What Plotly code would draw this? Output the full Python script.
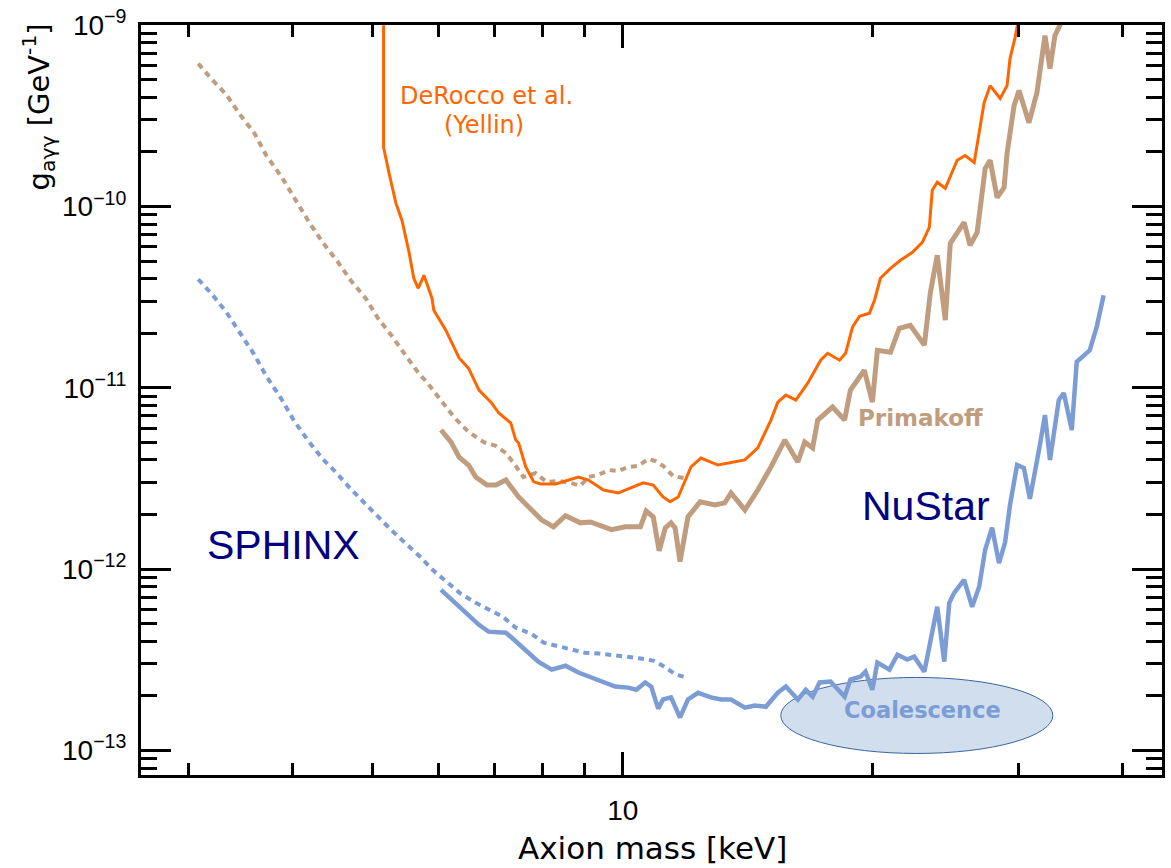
import plotly.graph_objects as go

# ---- DeRocco et al. (Yellin) limit ----
derocco_mass = [5.15, 5.15, 5.23, 5.33, 5.42, 5.53, 5.60, 5.67, 5.76, 5.89, 5.92, 6.12,
                6.35, 6.52, 6.71, 6.95, 7.09, 7.33, 7.43, 7.49, 7.64, 7.81, 7.96, 8.30,
                8.84, 9.09, 9.48, 9.88, 10.58, 10.88, 11.18, 11.40, 11.66, 12.08, 12.42, 13.02,
                14.03, 14.54, 15.08, 15.37, 15.72, 16.16, 16.70, 17.31, 17.65, 18.24, 18.55, 18.91,
                19.28, 19.82, 20.10, 20.43, 21.01, 21.60, 22.33, 22.95, 23.40, 23.59, 23.92, 24.46,
                25.28, 25.85, 26.50, 26.72, 27.24, 27.70, 28.48, 29.03, 29.27, 29.68, 29.85, 30.0]
derocco_g = [1.0e-9, 2.12e-10, 1.52e-10, 1.04e-10, 8.38e-11, 5.52e-11, 4.02e-11, 3.54e-11, 4.17e-11, 3.12e-11, 2.68e-11, 2.08e-11,
             1.46e-11, 1.28e-11, 9.71e-12, 8.24e-12, 7.26e-12, 6.39e-12, 5.15e-12, 4.96e-12, 3.66e-12, 3.03e-12, 2.95e-12, 2.95e-12,
             3.22e-12, 3.10e-12, 2.73e-12, 2.63e-12, 2.99e-12, 2.91e-12, 2.50e-12, 2.35e-12, 2.50e-12, 3.66e-12, 4.10e-12, 3.75e-12,
             4.00e-12, 4.66e-12, 6.64e-12, 8.34e-12, 9.12e-12, 8.56e-12, 1.06e-11, 1.42e-11, 1.55e-11, 1.42e-11, 1.55e-11, 2.16e-11,
             2.48e-11, 2.58e-11, 3.04e-11, 4.02e-11, 4.56e-11, 5.05e-11, 5.59e-11, 6.34e-11, 7.67e-11, 1.23e-10, 1.36e-10, 1.26e-10,
             1.80e-10, 1.91e-10, 1.75e-10, 2.23e-10, 3.74e-10, 4.64e-10, 3.94e-10, 4.64e-10, 6.54e-10, 8.54e-10, 1.0e-9, 1.1e-9]

# ---- Primakoff (solid band) ----
primakoff_mass = [6.04, 6.21, 6.35, 6.52, 6.65, 6.86, 7.03, 7.23, 7.49, 7.98, 8.25, 8.53,
                  8.89, 9.14, 9.69, 10.07, 10.50, 10.67, 10.88, 11.06, 11.25, 11.43, 11.56, 11.72,
                  11.98, 12.39, 12.91, 13.27, 13.50, 14.03, 14.54, 15.08, 15.67, 16.25, 16.56, 16.93,
                  17.17, 17.89, 18.50, 18.80, 19.54, 19.98, 20.26, 21.01, 21.53, 22.20, 23.08, 23.46,
                  23.92, 24.46, 24.80, 25.77, 26.20, 26.72, 27.32, 27.70, 28.24, 28.79, 29.03, 29.60,
                  30.01, 30.85, 31.54, 31.98, 32.25, 32.70, 33.15, 33.61, 33.98]
primakoff_g = [5.85e-12, 5.02e-12, 4.15e-12, 3.75e-12, 3.22e-12, 2.91e-12, 2.91e-12, 3.10e-12, 2.50e-12, 1.87e-12, 1.71e-12, 1.97e-12,
               1.80e-12, 1.82e-12, 1.65e-12, 1.71e-12, 1.71e-12, 2.09e-12, 1.94e-12, 1.26e-12, 1.69e-12, 1.80e-12, 1.69e-12, 1.10e-12,
               1.94e-12, 2.35e-12, 2.26e-12, 2.32e-12, 2.63e-12, 2.12e-12, 2.73e-12, 3.66e-12, 5.15e-12, 3.90e-12, 5.02e-12, 4.66e-12,
               6.64e-12, 7.83e-12, 6.64e-12, 9.71e-12, 1.25e-11, 8.34e-12, 1.61e-11, 1.57e-11, 2.13e-11, 2.21e-11, 1.72e-11, 3.32e-11,
               5.38e-11, 2.36e-11, 6.26e-11, 8.17e-11, 6.11e-11, 7.20e-11, 1.62e-10, 1.80e-10, 1.12e-10, 1.27e-10, 1.96e-10, 3.60e-10,
               4.36e-10, 2.90e-10, 4.25e-10, 6.79e-10, 8.75e-10, 5.76e-10, 8.75e-10, 1.0e-9, 1.09e-9]

# ---- NuStar (solid band) ----
nustar_mass = [6.04, 6.22, 6.47, 6.71, 6.89, 7.23, 7.35, 7.64, 7.91, 8.21, 8.53, 8.84,
               9.14, 9.53, 9.79, 10.15, 10.38, 10.64, 10.82, 11.03, 11.18, 11.43, 11.72, 11.98,
               12.32, 12.77, 13.13, 13.50, 14.03, 14.42, 14.87, 15.37, 15.72, 16.25, 16.61, 16.93,
               17.26, 17.79, 18.50, 18.80, 19.33, 19.60, 19.98, 20.26, 20.95, 21.42, 22.01, 22.44,
               23.08, 23.40, 23.92, 24.39, 24.73, 25.07, 25.77, 26.35, 26.87, 27.32, 27.85, 28.39,
               28.87, 29.27, 29.85, 30.42, 30.93, 31.80, 32.25, 32.70, 33.51, 33.98, 34.74, 35.22,
               36.51, 37.22, 37.95]
nustar_g = [7.69e-13, 6.78e-13, 5.74e-13, 4.93e-13, 4.52e-13, 4.46e-13, 4.18e-13, 3.59e-13, 3.09e-13, 2.79e-13, 2.93e-13, 2.69e-13,
            2.55e-13, 2.37e-13, 2.25e-13, 2.22e-13, 2.16e-13, 2.37e-13, 2.25e-13, 1.70e-13, 1.91e-13, 1.96e-13, 1.52e-13, 1.91e-13,
            2.08e-13, 1.96e-13, 1.91e-13, 1.91e-13, 1.72e-13, 1.77e-13, 1.74e-13, 2.08e-13, 2.25e-13, 1.91e-13, 2.16e-13, 1.98e-13,
            2.37e-13, 2.40e-13, 1.98e-13, 2.46e-13, 2.55e-13, 2.72e-13, 2.16e-13, 3.05e-13, 2.79e-13, 3.37e-13, 3.17e-13, 3.29e-13,
            2.72e-13, 3.73e-13, 6.20e-13, 3.09e-13, 6.52e-13, 7.40e-13, 8.73e-13, 6.20e-13, 7.99e-13, 1.28e-12, 1.69e-12, 1.08e-12,
            1.40e-12, 2.26e-12, 3.75e-12, 3.61e-12, 2.44e-12, 4.84e-12, 7.07e-12, 4.00e-12, 8.56e-12, 9.35e-12, 5.85e-12, 1.39e-11,
            1.61e-11, 2.16e-11, 3.24e-11]

# ---- SPHINX projections (dotted) ----
sphinx_tan_mass = [3.08, 3.20, 3.33, 3.45, 3.60, 3.72, 3.88, 4.02, 4.19, 4.35, 4.53, 4.70,
                   4.90, 5.07, 5.27, 5.48, 5.68, 5.81, 6.04, 6.26, 6.52, 6.80, 7.03, 7.23,
                   7.43, 7.59, 7.85, 8.09, 8.37, 8.65, 8.89, 9.09, 9.35, 9.61, 9.88, 10.15,
                   10.44, 10.73, 10.94, 11.18, 11.50, 11.85]
sphinx_tan_g = [6.14e-10, 5.01e-10, 4.14e-10, 3.26e-10, 2.53e-10, 1.91e-10, 1.46e-10, 1.11e-10, 8.17e-11, 6.34e-11, 4.99e-11, 3.92e-11,
                3.12e-11, 2.42e-11, 1.93e-11, 1.50e-11, 1.20e-11, 1.07e-11, 8.45e-12, 6.90e-12, 5.70e-12, 5.02e-12, 4.78e-12, 4.37e-12,
                3.71e-12, 3.22e-12, 3.39e-12, 3.03e-12, 3.06e-12, 2.99e-12, 2.88e-12, 3.22e-12, 3.31e-12, 3.52e-12, 3.48e-12, 3.66e-12,
                3.71e-12, 4.05e-12, 3.95e-12, 3.71e-12, 3.26e-12, 3.18e-12]

sphinx_blue_mass = [3.08, 3.20, 3.33, 3.45, 3.59, 3.72, 3.88, 4.02, 4.18, 4.35, 4.52, 4.70,
                    4.88, 5.06, 5.27, 5.48, 5.70, 5.90, 6.14, 6.38, 6.65, 6.89, 7.17, 7.43,
                    7.76, 8.03, 8.32, 8.65, 8.99, 9.35, 9.74, 10.10, 10.52, 10.88, 11.12, 11.34,
                    11.59, 11.85]
sphinx_blue_g = [3.97e-11, 3.28e-11, 2.61e-11, 2.03e-11, 1.55e-11, 1.16e-11, 8.67e-12, 6.55e-12, 5.09e-12, 4.05e-12, 3.39e-12, 2.77e-12,
                 2.32e-12, 1.97e-12, 1.63e-12, 1.38e-12, 1.17e-12, 9.91e-13, 8.51e-13, 7.31e-13, 6.52e-13, 5.97e-13, 5.46e-13, 4.75e-13,
                 4.40e-13, 3.93e-13, 3.78e-13, 3.59e-13, 3.46e-13, 3.42e-13, 3.33e-13, 3.29e-13, 3.21e-13, 3.13e-13, 2.97e-13, 2.79e-13,
                 2.62e-13, 2.55e-13]

# ---- axis ticks ----
x_major_ticks = [10]
x_major_labels = ["10"]
x_minor_ticks = [3, 4, 5, 6, 7, 8, 9, 20, 30, 40]
y_major_ticks = [1e-13, 1e-12, 1e-11, 1e-10, 1e-9]
y_major_labels = ["10<sup>\u221213</sup>", "10<sup>\u221212</sup>", "10<sup>\u221211</sup>",
                  "10<sup>\u221210</sup>", "10<sup>\u22129</sup>"]
y_decades = [-14, -13, -12, -11, -10]
y_minor_ticks = [m * 10.0 ** k for k in y_decades for m in range(2, 10)]

ORANGE = "#ff6600"
TAN = "#bf9d7e"
BLUE = "#7c9cd5"
NAVY = "#000080"

fig = go.Figure()

fig.add_trace(go.Scatter(x=sphinx_tan_mass, y=sphinx_tan_g, mode="lines",
                         line=dict(color=TAN, width=4, dash="6px,5px")))
fig.add_trace(go.Scatter(x=sphinx_blue_mass, y=sphinx_blue_g, mode="lines",
                         line=dict(color=BLUE, width=4, dash="6px,5px")))
fig.add_trace(go.Scatter(x=primakoff_mass, y=primakoff_g, mode="lines",
                         line=dict(color=TAN, width=5)))
fig.add_trace(go.Scatter(x=nustar_mass, y=nustar_g, mode="lines",
                         line=dict(color=BLUE, width=4.5)))
fig.add_trace(go.Scatter(x=derocco_mass, y=derocco_g, mode="lines",
                         line=dict(color=ORANGE, width=3)))

axis_common = dict(
    type="log", showline=True, linewidth=3, linecolor="black", mirror="ticks",
    ticks="inside", tickwidth=2.5, tickcolor="black", showgrid=False, zeroline=False,
    tickfont=dict(family="Liberation Sans", size=28, color="black"),
)

fig.update_xaxes(
    **axis_common,
    range=[0.4196, 1.6495],
    tickmode="array", tickvals=x_major_ticks, ticktext=x_major_labels,
    ticklen=23, ticklabelstandoff=8,
    minor=dict(tickmode="array", tickvals=x_minor_ticks, ticks="inside",
               ticklen=12, tickwidth=2.5, tickcolor="black", showgrid=False),
)
fig.update_yaxes(
    **axis_common,
    range=[-13.1355, -8.999],
    tickmode="array", tickvals=y_major_ticks, ticktext=y_major_labels,
    ticklen=30, ticklabelstandoff=6,
    minor=dict(tickmode="array", tickvals=y_minor_ticks, ticks="inside",
               ticklen=16, tickwidth=2.5, tickcolor="black", showgrid=False),
)

# Coalescence region
fig.add_shape(type="circle", xref="paper", yref="paper",
              x0=0.6266, x1=0.8931, y0=0.0287, y1=0.1301,
              fillcolor="#d0deee", line=dict(color="#3a64a0", width=1), layer="below")

def label(text, x, y, size, color, family="DejaVu Sans", angle=0):
    fig.add_annotation(text=text, x=x, y=y, xref="paper", yref="paper",
                       xanchor="center", yanchor="middle", showarrow=False,
                       textangle=angle, borderpad=0,
                       font=dict(family=family, size=size, color=color))

label("DeRocco et al.", 0.3387, 0.9059, 24, ORANGE)
label("(Yellin)", 0.3363, 0.8666, 24, ORANGE)
label("<b>Primakoff</b>", 0.7638, 0.4757, 23, TAN)
label("NuStar", 0.7691, 0.3582, 41, NAVY, family="Liberation Sans")
label("SPHINX", 0.1391, 0.3069, 41, NAVY, family="Liberation Sans")
label("<b>Coalescence</b>", 0.7652, 0.0861, 22.5, BLUE)
label("Axion mass [keV]", 0.5012, -0.0967, 31, "black")
label("g<sub>aγγ</sub> [GeV<sup>-1</sup>]", -0.1005, 0.8906, 29, "black", angle=-90)

fig.update_layout(
    width=1171, height=868,
    margin=dict(l=141, r=5.5, t=25, b=92.5),
    paper_bgcolor="white", plot_bgcolor="white",
    showlegend=False,
)

fig.write_html("out.html")
